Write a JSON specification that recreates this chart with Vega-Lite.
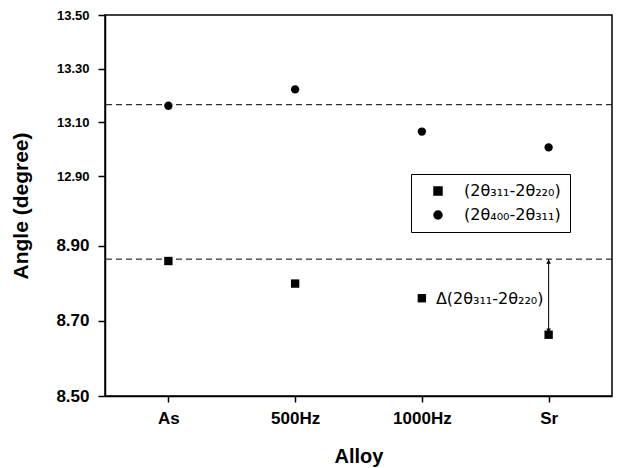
{
  "$schema": "https://vega.github.io/schema/vega-lite/v6.json",
  "width": 507,
  "height": 381,
  "autosize": {"type": "none"},
  "padding": {"left": 105, "top": 15, "right": 6, "bottom": 72},
  "background": "white",
  "config": {
    "font": "Liberation Sans",
    "view": {"stroke": "black", "strokeWidth": 1.5}
  },
  "datasets": {
    "points": [
      {"Alloy": "As", "series": "(2θ₃₁₁-2θ₂₂₀)", "angle": 8.859},
      {"Alloy": "500Hz", "series": "(2θ₃₁₁-2θ₂₂₀)", "angle": 8.799},
      {"Alloy": "1000Hz", "series": "(2θ₃₁₁-2θ₂₂₀)", "angle": 8.760},
      {"Alloy": "Sr", "series": "(2θ₃₁₁-2θ₂₂₀)", "angle": 8.663},
      {"Alloy": "As", "series": "(2θ₄₀₀-2θ₃₁₁)", "angle": 13.162},
      {"Alloy": "500Hz", "series": "(2θ₄₀₀-2θ₃₁₁)", "angle": 13.223},
      {"Alloy": "1000Hz", "series": "(2θ₄₀₀-2θ₃₁₁)", "angle": 13.066},
      {"Alloy": "Sr", "series": "(2θ₄₀₀-2θ₃₁₁)", "angle": 13.007}
    ],
    "refs": [{"ref": 13.166}, {"ref": 8.864}],
    "arrow": [{"Alloy": "Sr", "from": 8.864, "to": 8.668, "top": 8.857, "bottom": 8.674}],
    "note": [{"Alloy": "1000Hz", "angle": 8.758, "label": "Δ(2θ₃₁₁-2θ₂₂₀)"}]
  },
  "encoding": {
    "x": {
      "field": "Alloy", "type": "ordinal",
      "scale": {"type": "point", "domain": ["As", "500Hz", "1000Hz", "Sr"], "padding": 0.5},
      "axis": {"title": "Alloy", "labelAngle": 0, "grid": false, "zindex": 1, "domainColor": "black", "domainWidth": 1.5,
               "ticks": true, "tickSize": 6, "tickWidth": 1.5, "tickColor": "black",
               "labelColor": "black", "labelFontWeight": "bold", "labelFontSize": 17, "labelPadding": 8,
               "titleFontWeight": "bold", "titleFontSize": 20, "titleColor": "black", "titlePadding": 20}
    }
  },
  "layer": [
    {
      "data": {"name": "points"},
      "mark": {"type": "point", "filled": true, "color": "black", "opacity": 1, "size": 70},
      "encoding": {
        "y": {
          "field": "angle", "type": "quantitative",
          "scale": {"domain": [8.5, 9.0, 12.8, 13.5], "range": [381, 193, 188, 0], "nice": false, "zero": false},
          "axis": {
            "title": "Angle (degree)", "grid": false, "zindex": 1, "domainColor": "black", "domainWidth": 1.5,
            "titleFontWeight": "bold", "titleFontSize": 21, "titleColor": "black", "titlePadding": 24,
            "labelColor": "black", "labelFontWeight": "bold", "labelPadding": 9,
            "labelFontSize": {"condition": {"test": "datum.value > 10", "value": 13}, "value": 17},
            "ticks": true, "tickSize": 7, "tickWidth": 1.5, "tickColor": "black",
            "labelOverlap": false,
            "values": [8.5, 8.55, 8.6, 8.65, 8.7, 8.75, 8.8, 8.85, 8.9, 8.95,
                       12.8, 12.85, 12.9, 12.95, 13.0, 13.05, 13.1, 13.15, 13.2, 13.25, 13.3, 13.35, 13.4, 13.45, 13.5],
            "format": ".2f"
          }
        },
        "shape": {
          "field": "series", "type": "nominal",
          "scale": {"domain": ["(2θ₃₁₁-2θ₂₂₀)", "(2θ₄₀₀-2θ₃₁₁)"], "range": ["square", "circle"]},
          "legend": {
            "orient": "none", "legendX": 306, "legendY": 159, "title": null,
            "strokeColor": "black", "padding": 9, "symbolOffset": 10,
            "labelFontSize": 16, "labelFont": "DejaVu Sans", "labelColor": "black",
            "labelOffset": 18, "symbolSize": 90, "rowPadding": 8,
            "symbolFillColor": "black", "symbolStrokeColor": "black"
          }
        }
      }
    },
    {
      "data": {"name": "refs"},
      "mark": {"type": "rule", "strokeDash": [6, 4], "color": "black", "strokeWidth": 1},
      "encoding": {
        "x": null,
        "y": {"field": "ref", "type": "quantitative"}
      }
    },
    {
      "data": {"name": "arrow"},
      "mark": {"type": "rule", "color": "black", "strokeWidth": 1},
      "encoding": {
        "y": {"field": "from", "type": "quantitative"},
        "y2": {"field": "to"}
      }
    },
    {
      "data": {"name": "arrow"},
      "mark": {"type": "point", "shape": "triangle-up", "filled": true, "color": "black", "size": 22, "opacity": 1},
      "encoding": {
        "y": {"field": "top", "type": "quantitative"}
      }
    },
    {
      "data": {"name": "arrow"},
      "mark": {"type": "point", "shape": "triangle-down", "filled": true, "color": "black", "size": 22, "opacity": 1},
      "encoding": {
        "y": {"field": "bottom", "type": "quantitative"}
      }
    },
    {
      "data": {"name": "note"},
      "mark": {"type": "text", "align": "left", "baseline": "middle", "dx": 14, "fontSize": 16, "font": "DejaVu Sans", "color": "black"},
      "encoding": {
        "y": {"field": "angle", "type": "quantitative"},
        "text": {"field": "label"}
      }
    }
  ]
}
